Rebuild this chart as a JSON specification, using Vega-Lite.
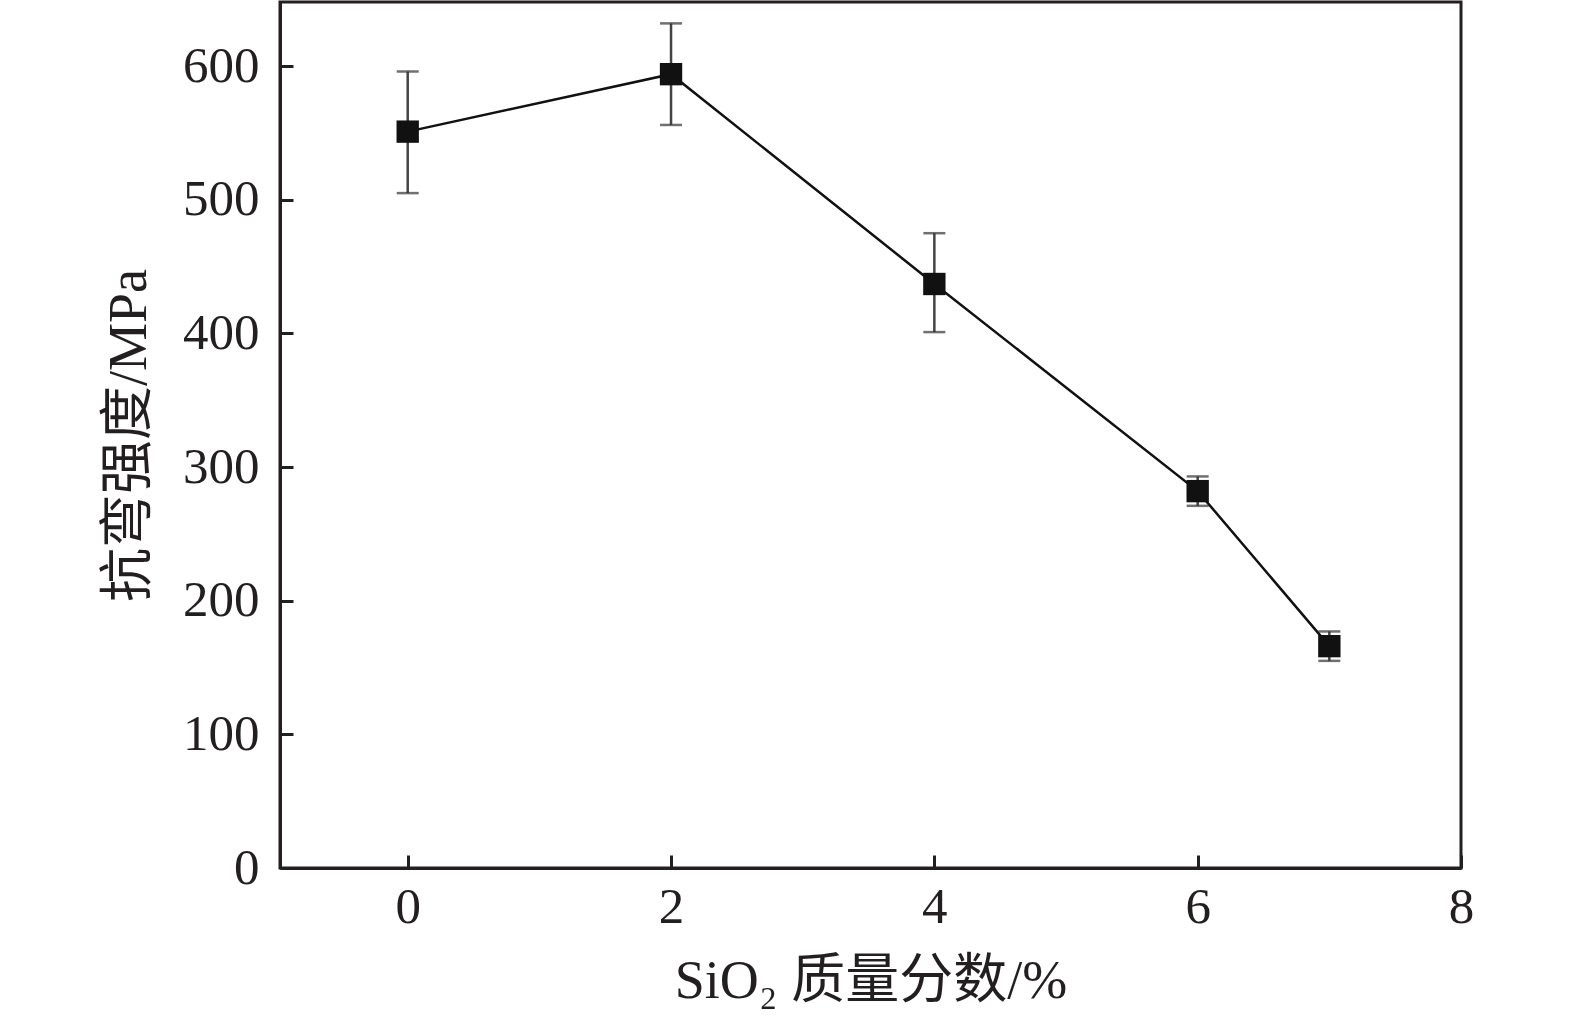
{
  "$schema": "https://vega.github.io/schema/vega-lite/v6.json",
  "autosize": "none",
  "width": 1181,
  "height": 866,
  "padding": {"left": 280, "top": 2, "right": 114, "bottom": 156},
  "background": "white",
  "config": {
    "view": {"stroke": "#231f20", "strokeWidth": 3},
    "font": "Liberation Serif, Noto Sans CJK SC",
    "axis": {
      "grid": false,
      "domainColor": "#231f20",
      "domainWidth": 3,
      "tickColor": "#231f20",
      "tickWidth": 3,
      "tickSize": -13,
      "labelFont": "Liberation Serif",
      "labelFontSize": 51,
      "labelColor": "#231f20",
      "titleFont": "Liberation Serif, Noto Sans CJK SC",
      "titleFontSize": 54,
      "titleFontWeight": "normal",
      "titleColor": "#231f20"
    }
  },
  "data": {
    "values": [
      {"x": 0, "y": 551, "lo": 505, "hi": 596},
      {"x": 2, "y": 594, "lo": 556, "hi": 632},
      {"x": 4, "y": 437, "lo": 401, "hi": 475},
      {"x": 6, "y": 282, "lo": 271, "hi": 293},
      {"x": 7, "y": 166, "lo": 155, "hi": 177}
    ]
  },
  "encoding": {
    "x": {
      "field": "x",
      "type": "quantitative",
      "scale": {"domain": [-0.97, 8], "nice": false, "zero": false},
      "axis": {"values": [0, 2, 4, 6, 8], "title": "SiO₂ 质量分数/%", "labelPadding": 27, "titlePadding": 22, "labelFlush": false}
    }
  },
  "layer": [
    {
      "mark": {"type": "rule", "color": "#444444", "strokeWidth": 2.5},
      "encoding": {
        "y": {"field": "lo", "type": "quantitative"},
        "y2": {"field": "hi"}
      }
    },
    {
      "mark": {"type": "tick", "orient": "horizontal", "size": 22, "thickness": 2.5, "color": "#333333"},
      "encoding": {"y": {"field": "lo", "type": "quantitative"}}
    },
    {
      "mark": {"type": "tick", "orient": "horizontal", "size": 22, "thickness": 2.5, "color": "#333333"},
      "encoding": {"y": {"field": "hi", "type": "quantitative"}}
    },
    {
      "mark": {"type": "line", "color": "#111111", "strokeWidth": 2.5},
      "encoding": {
        "y": {
          "field": "y",
          "type": "quantitative",
          "scale": {"domain": [0, 648], "nice": false},
          "axis": {"values": [0, 100, 200, 300, 400, 500, 600], "title": "抗弯强度/MPa", "labelPadding": 34, "titlePadding": 26}
        }
      }
    },
    {
      "mark": {"type": "point", "shape": "square", "filled": true, "size": 500, "color": "#111111", "opacity": 1},
      "encoding": {"y": {"field": "y", "type": "quantitative"}}
    }
  ]
}
